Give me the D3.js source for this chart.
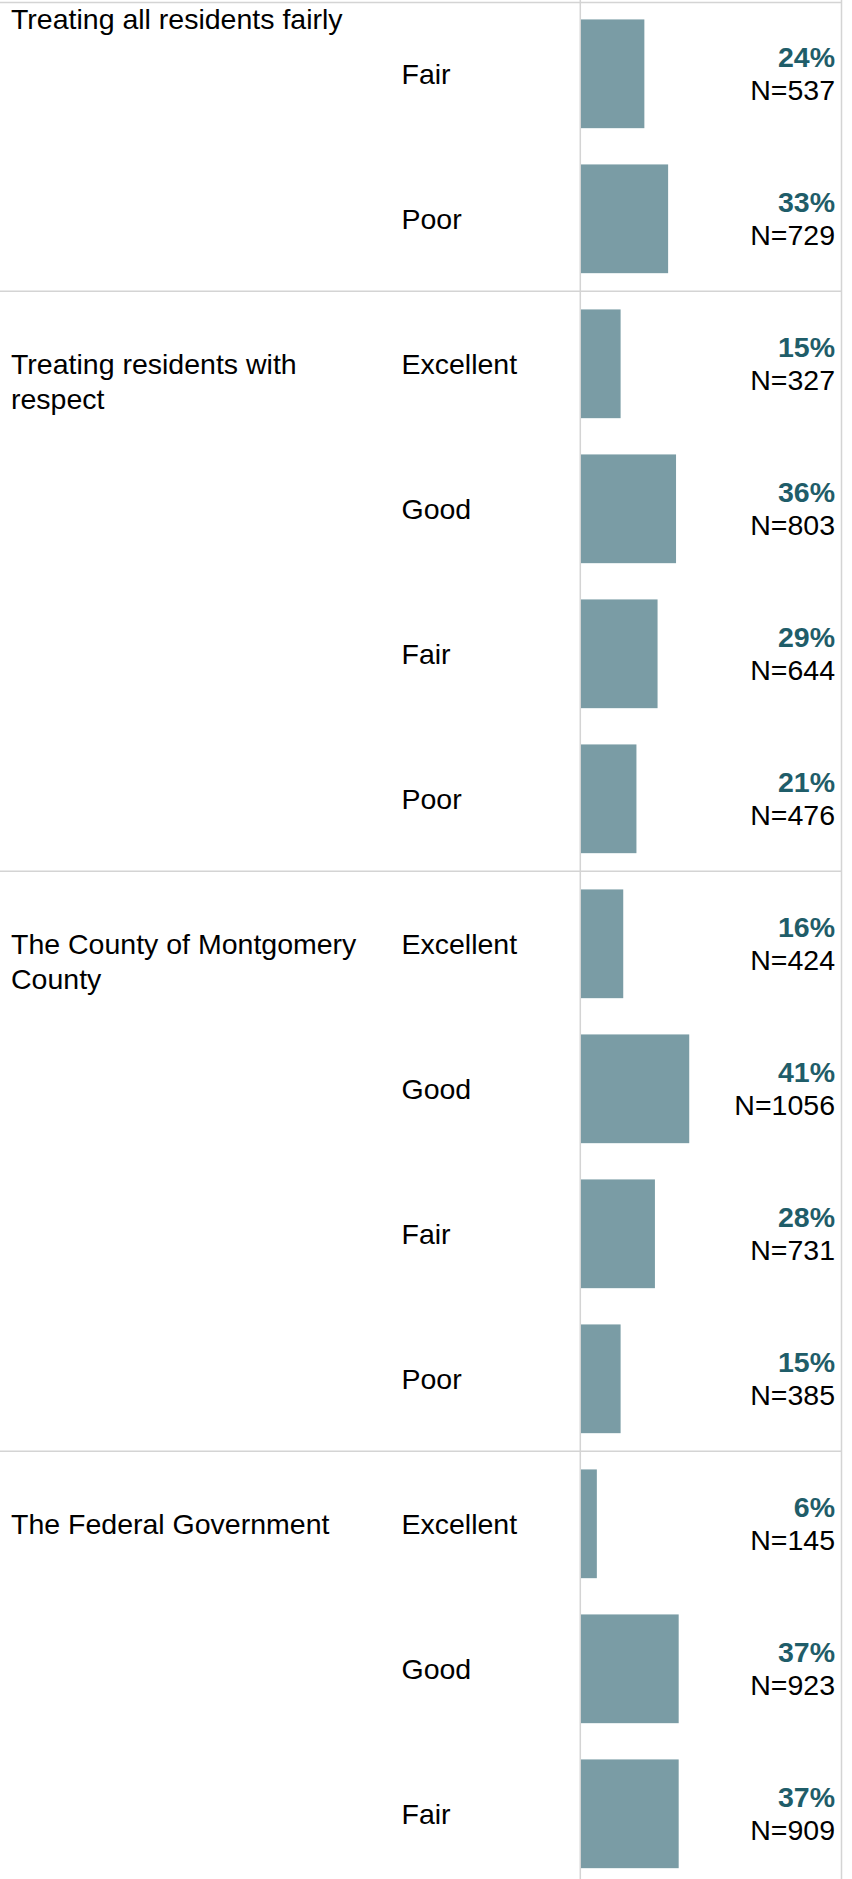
<!DOCTYPE html>
<html>
<head>
<meta charset="utf-8">
<script src="https://cdn.jsdelivr.net/npm/d3@7"></script>
<style>
  html, body { margin: 0; padding: 0; background: #fff; overflow: hidden; }
  svg { display: block; font-family: "Liberation Sans", Arial, sans-serif; }
</style>
</head>
<body>
<div id="chart"></div>
<script>
// Survey ratings by topic: share of respondents and counts per rating
const groups = [
  "Treating all residents fairly",
  "Treating residents with respect",
  "The County of Montgomery County",
  "The Federal Government"
];
const groupRatings = [
  ["Fair", "Poor"],
  ["Excellent", "Good", "Fair", "Poor"],
  ["Excellent", "Good", "Fair", "Poor"],
  ["Excellent", "Good", "Fair"]
];
const groupPercents = [
  [24, 33],
  [15, 36, 29, 21],
  [16, 41, 28, 15],
  [6, 37, 37]
];
const groupCounts = [
  [537, 729],
  [327, 803, 644, 476],
  [424, 1056, 731, 385],
  [145, 923, 909]
];
// Wrapped group labels
const groupLines = [
  ["Treating all residents fairly"],
  ["Treating residents with", "respect"],
  ["The County of Montgomery", "County"],
  ["The Federal Government"]
];

const W = 852, H = 1879;
const rowStep = 145;
const rowsTop = 1.3;
const fontSize = 28.5;
const barColor = "#7a9ca5";
const pctColor = "#1f5d69";
const gridColor = "#d4d4d4";

const colGroupX = 11, colRatingX = 401.5, barX0 = 581, borderRight = 841.5, labelRight = 835;

// Flatten rows
const rows = [];
groups.forEach((g, gi) => {
  groupRatings[gi].forEach((r, ri) => {
    rows.push({ id: gi + "-" + ri, group: g, gi, rating: r, pct: groupPercents[gi][ri], n: groupCounts[gi][ri], first: ri === 0 });
  });
});

const y = d3.scaleBand()
  .domain(rows.map(d => d.id))
  .range([rowsTop, rowsTop + rowStep * rows.length])
  .paddingInner(0.25)
  .paddingOuter(0.125);

const x = d3.scaleLinear().domain([0, 100]).range([barX0, barX0 + 264]);

const svg = d3.select("#chart").append("svg")
  .attr("width", W).attr("height", H);

const center = d => y(d.id) + y.bandwidth() / 2;

// Group boundaries
const groupStarts = [];
let idx = 0;
groupRatings.forEach((arr) => {
  groupStarts.push(rowsTop + rowStep * idx);
  idx += arr.length;
});

// Grid lines
const grid = svg.append("g").attr("stroke", gridColor).attr("stroke-width", 1.5);
grid.append("line").attr("x1", 0).attr("x2", borderRight).attr("y1", 2.5).attr("y2", 2.5);
groupStarts.slice(1).forEach(v => {
  grid.append("line").attr("x1", 0).attr("x2", borderRight).attr("y1", v).attr("y2", v);
});
grid.append("line").attr("x1", barX0 - 0.7).attr("x2", barX0 - 0.7).attr("y1", 0).attr("y2", H);
grid.append("line").attr("x1", borderRight).attr("x2", borderRight).attr("y1", 0).attr("y2", H);

// Bars
svg.append("g").selectAll("rect").data(rows).join("rect")
  .attr("x", x(0))
  .attr("y", d => y(d.id))
  .attr("width", d => x(d.pct) - x(0))
  .attr("height", y.bandwidth())
  .attr("fill", barColor);

// Rating labels
svg.append("g").selectAll("text").data(rows).join("text")
  .attr("x", colRatingX)
  .attr("y", d => center(d) + 9.8)
  .attr("font-size", fontSize)
  .attr("fill", "#000")
  .text(d => d.rating);

// Group labels: aligned with first row, pinned to top of view when scrolled off
const firstRows = rows.filter(d => d.first);
const gl = svg.append("g").selectAll("text").data(firstRows).join("text")
  .attr("x", colGroupX)
  .attr("y", d => d.gi === 0 ? 28.5 : center(d) + 9.8)
  .attr("font-size", fontSize)
  .attr("fill", "#000");
gl.selectAll("tspan").data(d => groupLines[d.gi]).join("tspan")
  .attr("x", colGroupX)
  .attr("dy", (d, i) => i === 0 ? 0 : 35)
  .text(d => d);

// Value labels
const vl = svg.append("g").selectAll("g").data(rows).join("g");
vl.append("text")
  .attr("x", labelRight)
  .attr("y", d => center(d) - 6.5)
  .attr("text-anchor", "end")
  .attr("font-size", fontSize)
  .attr("font-weight", "bold")
  .attr("fill", pctColor)
  .text(d => d.pct + "%");
vl.append("text")
  .attr("x", labelRight)
  .attr("y", d => center(d) + 26.5)
  .attr("text-anchor", "end")
  .attr("font-size", fontSize)
  .attr("fill", "#000")
  .text(d => "N=" + d.n);
</script>
</body>
</html>
